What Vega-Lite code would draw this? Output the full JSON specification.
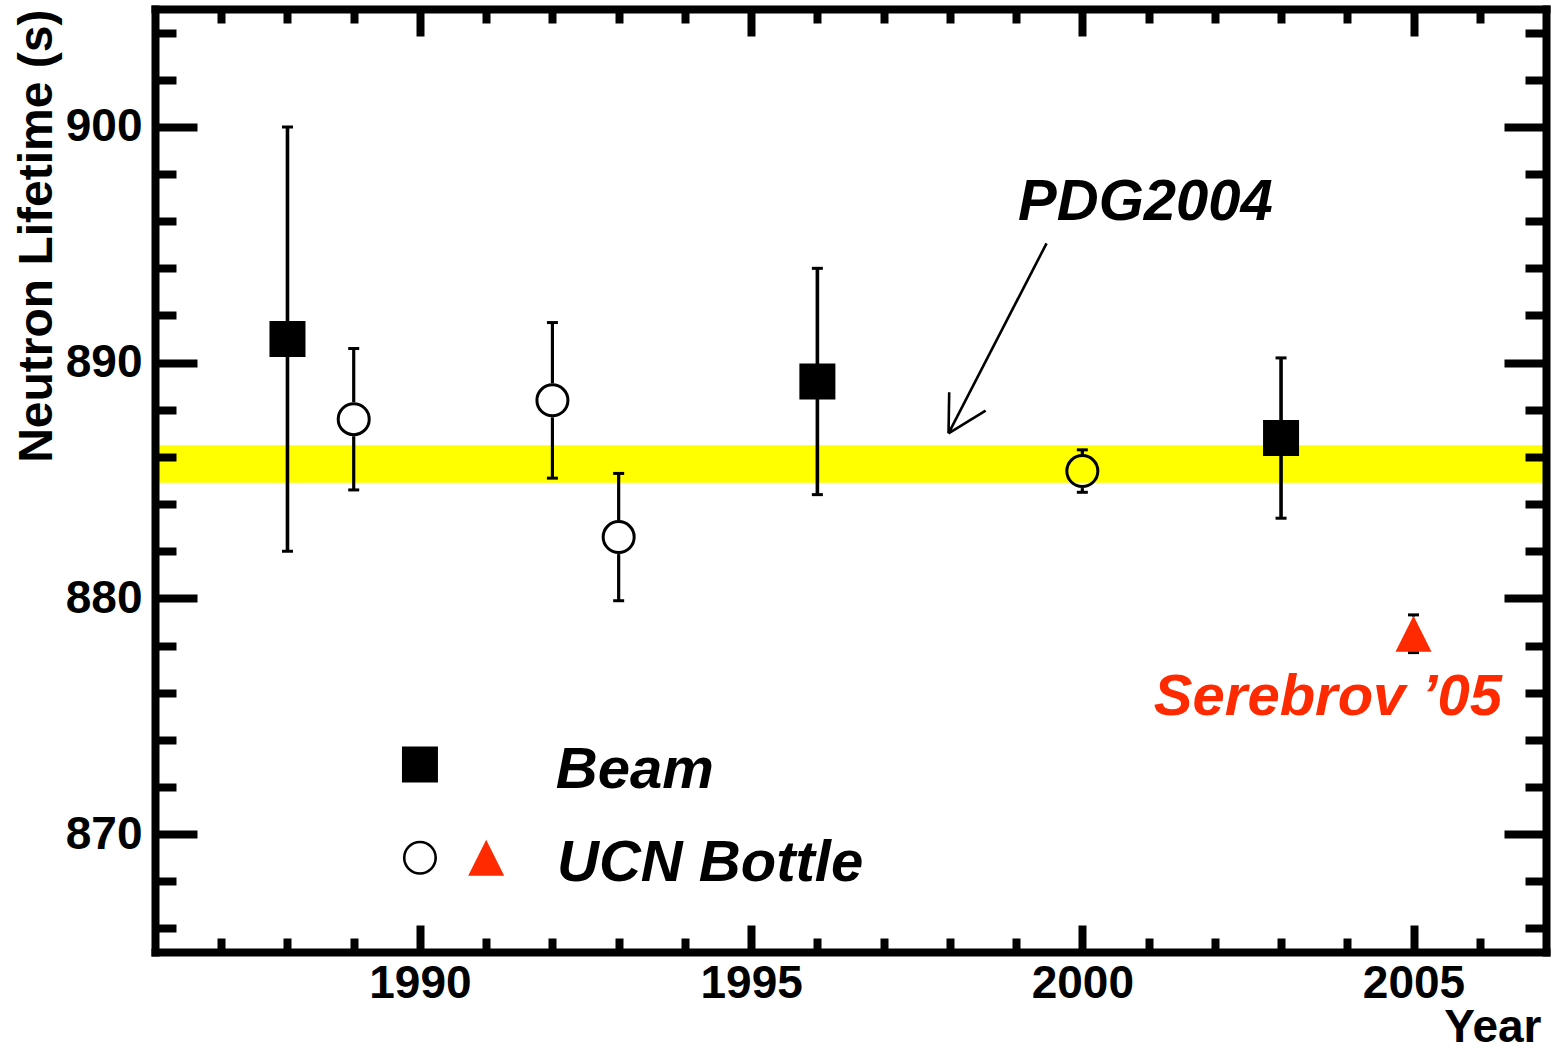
{
  "$schema": "https://vega.github.io/schema/vega-lite/v6.json",
  "width": 1391,
  "height": 943,
  "autosize": {"type": "none"},
  "padding": {"left": 155, "top": 9, "right": 6, "bottom": 98},
  "background": "white",
  "config": {"view": {"stroke": null}, "font": "Liberation Sans"},
  "datasets": {
    "pts": [
      {"series": "Beam", "year": 1988, "lt": 891.0, "lo": 882.0, "hi": 900.0},
      {"series": "Beam", "year": 1996, "lt": 889.2, "lo": 884.4, "hi": 894.0},
      {"series": "Beam", "year": 2003, "lt": 886.8, "lo": 883.4, "hi": 890.2},
      {"series": "UCN", "year": 1989, "lt": 887.6, "lo": 884.6, "hi": 890.6},
      {"series": "UCN", "year": 1992, "lt": 888.4, "lo": 885.1, "hi": 891.7},
      {"series": "UCN", "year": 1993, "lt": 882.6, "lo": 879.9, "hi": 885.3},
      {"series": "UCN", "year": 2000, "lt": 885.4, "lo": 884.5, "hi": 886.3},
      {"series": "Serebrov", "year": 2005, "lt": 878.5, "lo": 877.7, "hi": 879.3}
    ],
    "band": [{"lo": 884.9, "hi": 886.5}],
    "arrow": [
      {"x1": 1999.46, "y1": 895.06, "x2": 1997.98, "y2": 887.0},
      {"x1": 1997.98, "y1": 887.0, "x2": 1997.99, "y2": 888.74},
      {"x1": 1997.98, "y1": 887.0, "x2": 1998.54, "y2": 887.96}
    ],
    "notes": [
      {"text": "PDG2004", "year": 1999.03, "lt": 896.05, "series": "note"},
      {"text": "Beam", "year": 1992.05, "lt": 871.95, "series": "note"},
      {"text": "UCN Bottle", "year": 1992.07, "lt": 868.01, "series": "note"},
      {"text": "Serebrov ’05", "year": 2001.08, "lt": 875.05, "series": "Serebrov"}
    ],
    "legend": [
      {"series": "Beam", "year": 1990.0, "lt": 872.95},
      {"series": "UCN", "year": 1990.0, "lt": 869.0},
      {"series": "Serebrov", "year": 1991.0, "lt": 869.0}
    ]
  },
  "resolve": {"axis": {"x": "independent", "y": "independent"}},
  "layer": [
    {
      "data": {"name": "band"},
      "mark": {"type": "rect", "color": "#ffff00"},
      "encoding": {
        "y": {"field": "hi", "type": "quantitative", "scale": {"domain": [865, 905], "nice": false, "zero": false}, "axis": null},
        "y2": {"field": "lo"}
      }
    },
    {
      "data": {"name": "pts"},
      "mark": {"type": "rule", "color": "black", "y2Offset": -17},
      "encoding": {
        "x": {
          "field": "year", "type": "quantitative",
          "scale": {"domain": [1986, 2007], "nice": false, "zero": false},
          "axis": {
            "orient": "bottom",
            "values": [1987, 1988, 1989, 1990, 1991, 1992, 1993, 1994, 1995, 1996, 1997, 1998, 1999, 2000, 2001, 2002, 2003, 2004, 2005, 2006],
            "labelExpr": "datum.value % 5 === 0 ? datum.value : ''",
            "tickSize": {"condition": {"test": "datum.value % 5 === 0", "value": -27}, "value": -14},
            "tickWidth": 8, "tickColor": "black",
            "domainColor": "black", "domainWidth": 8, "domainCap": "square",
            "grid": false,
            "labelFont": "Liberation Sans", "labelFontWeight": "bold", "labelFontSize": 46, "labelColor": "black",
            "labelPadding": 36, "labelFlush": false, "labelOverlap": false, "labelBaseline": "top",
            "title": "Year", "titleFont": "Liberation Sans", "titleFontSize": 46, "titleFontWeight": "bold", "titleColor": "black",
            "titleAlign": "right", "titleAnchor": null, "titleX": 1386, "titleY": 89, "titleBaseline": "alphabetic",
            "zindex": 1
          }
        },
        "y": {
          "field": "hi", "type": "quantitative",
          "scale": {"domain": [865, 905], "nice": false, "zero": false},
          "axis": {
            "orient": "left",
            "values": [866, 868, 870, 872, 874, 876, 878, 880, 882, 884, 886, 888, 890, 892, 894, 896, 898, 900, 902, 904],
            "labelExpr": "datum.value % 10 === 0 ? datum.value : ''",
            "tickSize": {"condition": {"test": "datum.value % 10 === 0", "value": -42}, "value": -21},
            "tickWidth": 8, "tickColor": "black",
            "domainColor": "black", "domainWidth": 8, "domainCap": "square",
            "grid": false,
            "labelFont": "Liberation Sans", "labelFontWeight": "bold", "labelFontSize": 46, "labelColor": "black",
            "labelPadding": 55, "labelFlush": false, "labelOverlap": false,
            "title": "Neutron Lifetime (s)", "titleFont": "Liberation Sans", "titleFontSize": 48, "titleFontWeight": "bold", "titleColor": "black",
            "titleAlign": "right", "titleAnchor": null, "titleAngle": -90, "titleX": -104, "titleY": 0, "titleBaseline": "alphabetic",
            "zindex": 1
          }
        },
        "y2": {"field": "lt"},
        "strokeWidth": {"field": "series", "type": "nominal", "scale": {"domain": ["Beam", "UCN", "Serebrov"], "range": [3.6, 2.8, 2.8]}, "legend": null}
      }
    },
    {
      "data": {"name": "pts"},
      "mark": {"type": "rule", "color": "black", "y2Offset": 17},
      "encoding": {
        "x": {
          "field": "year", "type": "quantitative",
          "scale": {"domain": [1986, 2007], "nice": false, "zero": false},
          "axis": {
            "orient": "top",
            "values": [1987, 1988, 1989, 1990, 1991, 1992, 1993, 1994, 1995, 1996, 1997, 1998, 1999, 2000, 2001, 2002, 2003, 2004, 2005, 2006],
            "labels": false,
            "tickSize": {"condition": {"test": "datum.value % 5 === 0", "value": -27}, "value": -14},
            "tickWidth": 8, "tickColor": "black",
            "domainColor": "black", "domainWidth": 8, "domainCap": "square",
            "grid": false, "title": null, "zindex": 1
          }
        },
        "y": {
          "field": "lo", "type": "quantitative",
          "scale": {"domain": [865, 905], "nice": false, "zero": false},
          "axis": {
            "orient": "right",
            "values": [866, 868, 870, 872, 874, 876, 878, 880, 882, 884, 886, 888, 890, 892, 894, 896, 898, 900, 902, 904],
            "labels": false,
            "tickSize": {"condition": {"test": "datum.value % 10 === 0", "value": -42}, "value": -21},
            "tickWidth": 8, "tickColor": "black",
            "domainColor": "black", "domainWidth": 8, "domainCap": "square",
            "grid": false, "title": null, "zindex": 1
          }
        },
        "y2": {"field": "lt"},
        "strokeWidth": {"field": "series", "type": "nominal", "scale": {"domain": ["Beam", "UCN", "Serebrov"], "range": [3.6, 2.8, 2.8]}, "legend": null}
      }
    },
    {
      "data": {"name": "pts"},
      "transform": [{"fold": ["lo", "hi"], "as": ["end", "val"]}],
      "mark": {"type": "tick", "orient": "horizontal", "color": "black", "size": 11, "thickness": 3, "opacity": 1},
      "encoding": {
        "x": {"field": "year", "type": "quantitative", "scale": {"domain": [1986, 2007], "nice": false, "zero": false}, "axis": null},
        "y": {"field": "val", "type": "quantitative", "scale": {"domain": [865, 905], "nice": false, "zero": false}, "axis": null}
      }
    },
    {
      "data": {"name": "pts"},
      "transform": [{"filter": "datum.series === 'Beam'"}],
      "mark": {"type": "point", "shape": "square", "filled": true, "color": "black", "size": 1296, "opacity": 1},
      "encoding": {
        "x": {"field": "year", "type": "quantitative", "scale": {"domain": [1986, 2007], "nice": false, "zero": false}, "axis": null},
        "y": {"field": "lt", "type": "quantitative", "scale": {"domain": [865, 905], "nice": false, "zero": false}, "axis": null}
      }
    },
    {
      "data": {"name": "pts"},
      "transform": [{"filter": "datum.series === 'UCN'"}],
      "mark": {"type": "point", "shape": "circle", "filled": false, "stroke": "black", "strokeWidth": 3, "size": 962, "opacity": 1},
      "encoding": {
        "x": {"field": "year", "type": "quantitative", "scale": {"domain": [1986, 2007], "nice": false, "zero": false}, "axis": null},
        "y": {"field": "lt", "type": "quantitative", "scale": {"domain": [865, 905], "nice": false, "zero": false}, "axis": null}
      }
    },
    {
      "data": {"name": "pts"},
      "transform": [{"filter": "datum.series === 'Serebrov'"}],
      "mark": {"type": "point", "shape": "M0,-1L1,1L-1,1Z", "filled": true, "color": "#ff2a00", "size": 1296, "opacity": 1, "strokeWidth": 0},
      "encoding": {
        "x": {"field": "year", "type": "quantitative", "scale": {"domain": [1986, 2007], "nice": false, "zero": false}, "axis": null},
        "y": {"field": "lt", "type": "quantitative", "scale": {"domain": [865, 905], "nice": false, "zero": false}, "axis": null}
      }
    },
    {
      "data": {"name": "legend"},
      "transform": [{"filter": "datum.series === 'Beam'"}],
      "mark": {"type": "point", "shape": "square", "filled": true, "color": "black", "size": 1296, "opacity": 1},
      "encoding": {
        "x": {"field": "year", "type": "quantitative", "scale": {"domain": [1986, 2007], "nice": false, "zero": false}, "axis": null},
        "y": {"field": "lt", "type": "quantitative", "scale": {"domain": [865, 905], "nice": false, "zero": false}, "axis": null}
      }
    },
    {
      "data": {"name": "legend"},
      "transform": [{"filter": "datum.series === 'UCN'"}],
      "mark": {"type": "point", "shape": "circle", "filled": false, "stroke": "black", "strokeWidth": 2.6, "size": 990, "opacity": 1},
      "encoding": {
        "x": {"field": "year", "type": "quantitative", "scale": {"domain": [1986, 2007], "nice": false, "zero": false}, "axis": null},
        "y": {"field": "lt", "type": "quantitative", "scale": {"domain": [865, 905], "nice": false, "zero": false}, "axis": null}
      }
    },
    {
      "data": {"name": "legend"},
      "transform": [{"filter": "datum.series === 'Serebrov'"}],
      "mark": {"type": "point", "shape": "M0,-1L1,1L-1,1Z", "filled": true, "color": "#ff2a00", "size": 1296, "opacity": 1, "strokeWidth": 0},
      "encoding": {
        "x": {"field": "year", "type": "quantitative", "scale": {"domain": [1986, 2007], "nice": false, "zero": false}, "axis": null},
        "y": {"field": "lt", "type": "quantitative", "scale": {"domain": [865, 905], "nice": false, "zero": false}, "axis": null}
      }
    },
    {
      "data": {"name": "arrow"},
      "mark": {"type": "rule", "color": "black", "strokeWidth": 2.6},
      "encoding": {
        "x": {"field": "x1", "type": "quantitative", "scale": {"domain": [1986, 2007], "nice": false, "zero": false}, "axis": null},
        "y": {"field": "y1", "type": "quantitative", "scale": {"domain": [865, 905], "nice": false, "zero": false}, "axis": null},
        "x2": {"field": "x2"},
        "y2": {"field": "y2"}
      }
    },
    {
      "data": {"name": "notes"},
      "mark": {"type": "text", "font": "Liberation Sans", "fontSize": 58, "fontWeight": "bold", "fontStyle": "italic", "align": "left", "baseline": "alphabetic"},
      "encoding": {
        "x": {"field": "year", "type": "quantitative", "scale": {"domain": [1986, 2007], "nice": false, "zero": false}, "axis": null},
        "y": {"field": "lt", "type": "quantitative", "scale": {"domain": [865, 905], "nice": false, "zero": false}, "axis": null},
        "text": {"field": "text"},
        "color": {"field": "series", "type": "nominal", "scale": {"domain": ["note", "Serebrov"], "range": ["black", "#ff2a00"]}, "legend": null}
      }
    }
  ]
}
